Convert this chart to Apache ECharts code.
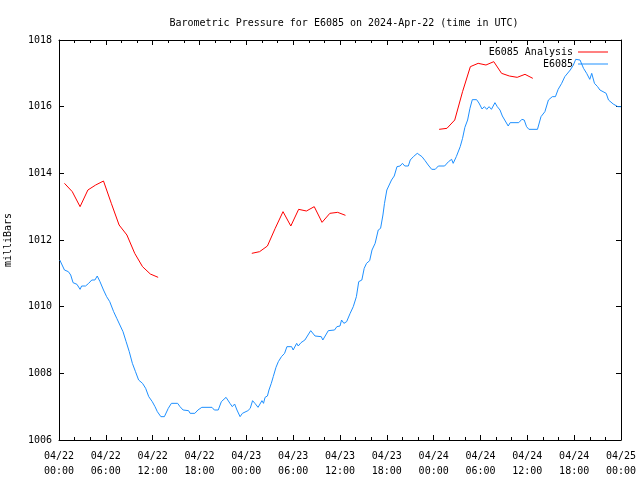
<!DOCTYPE html>
<html>
<head>
<meta charset="utf-8">
<script src="https://cdn.jsdelivr.net/npm/echarts@6/dist/echarts.min.js"></script>
<style>html,body{margin:0;padding:0;background:#fff}#c{width:640px;height:480px}</style>
</head>
<body>
<div id="c"></div>
<script>
// Hours since 2024-04-22 00:00 UTC
var analysisHours = [0.7,1.7,2.7,3.7,4.7,5.7,6.7,7.7,8.7,9.7,10.7,11.7,12.7,
  24.7,25.7,26.7,27.7,28.7,29.7,30.7,31.7,32.7,33.7,34.7,35.7,36.7,
  48.7,49.7,50.7,51.7,52.7,53.7,54.7,55.7,56.7,57.7,58.7,59.7,60.7];
var analysisValues = [1013.70,1013.45,1013.00,1013.50,1013.65,1013.77,1013.10,1012.45,1012.15,1011.60,1011.20,1010.98,1010.88,
  1011.60,1011.65,1011.82,1012.35,1012.85,1012.42,1012.92,1012.87,1013.00,1012.53,1012.80,1012.83,1012.74,
  1015.32,1015.35,1015.60,1016.45,1017.20,1017.30,1017.25,1017.35,1017.00,1016.92,1016.88,1016.97,1016.85];
var analysisGapsAfter = [12.7, 36.7];

var stationHours = [0.1,0.4,0.7,1.2,1.5,1.8,2.3,2.7,2.9,3.4,3.8,4.2,4.6,4.9,5.25,5.7,6.1,6.5,7.0,7.4,7.8,8.2,8.6,9.0,9.4,9.8,
  10.2,10.7,11.1,11.5,11.95,12.3,12.6,13.05,13.5,14.0,14.4,15.2,15.5,15.9,16.6,16.8,17.4,17.8,18.3,19.6,19.9,20.4,20.8,21.4,21.9,
  22.2,22.5,22.8,23.2,23.5,24.2,24.5,24.8,25.1,25.5,26.0,26.2,26.4,26.7,26.9,27.2,27.45,27.8,28.1,28.5,28.9,29.2,29.8,30.0,30.45,
  30.65,31.0,31.5,31.9,32.25,32.8,33.6,33.8,34.1,34.5,35.3,35.6,36.0,36.2,36.5,36.85,37.3,37.7,38.1,38.4,38.8,39.1,39.4,39.8,
  40.1,40.5,40.9,41.2,41.5,41.7,42.0,42.3,42.6,42.95,43.3,43.7,44.0,44.3,44.75,45.0,45.4,45.9,46.5,46.9,47.3,47.75,48.2,48.6,
  49.4,49.9,50.3,50.5,50.9,51.4,51.7,52.0,52.35,52.65,52.95,53.5,53.8,54.2,54.5,54.8,55.1,55.4,55.85,56.15,56.5,56.8,57.1,57.55,
  57.8,58.9,59.3,59.6,59.9,60.2,61.3,61.75,62.25,62.7,63.2,63.6,63.95,64.4,64.8,65.5,65.9,66.2,66.75,67.2,67.6,68.0,68.25,68.6,
  69.0,69.3,69.7,70.1,70.4,71.0,71.6,72.0];
var stationValues = [1011.40,1011.25,1011.10,1011.05,1010.95,1010.72,1010.67,1010.52,1010.62,1010.62,1010.70,1010.80,1010.80,1010.92,1010.75,1010.50,1010.30,1010.15,1009.85,1009.65,1009.45,1009.25,1008.95,1008.65,1008.30,1008.05,
  1007.80,1007.70,1007.55,1007.30,1007.15,1007.00,1006.85,1006.70,1006.70,1006.95,1007.10,1007.10,1007.00,1006.90,1006.88,1006.80,1006.80,1006.90,1006.98,1006.98,1006.90,1006.90,1007.15,1007.28,1007.10,
  1007.00,1007.08,1006.90,1006.70,1006.80,1006.88,1006.95,1007.18,1007.10,1006.98,1007.18,1007.10,1007.28,1007.32,1007.50,1007.70,1007.90,1008.18,1008.35,1008.50,1008.60,1008.80,1008.80,1008.70,1008.90,
  1008.82,1008.92,1009.00,1009.15,1009.28,1009.12,1009.10,1009.00,1009.12,1009.28,1009.30,1009.40,1009.42,1009.60,1009.50,1009.55,1009.80,1010.00,1010.30,1010.75,1010.80,1011.15,1011.30,1011.38,
  1011.70,1011.90,1012.30,1012.35,1012.75,1013.10,1013.50,1013.65,1013.80,1013.92,1014.20,1014.22,1014.30,1014.22,1014.22,1014.40,1014.50,1014.60,1014.50,1014.38,1014.25,1014.12,1014.12,1014.22,
  1014.22,1014.35,1014.42,1014.30,1014.50,1014.80,1015.05,1015.38,1015.60,1015.95,1016.21,1016.21,1016.11,1015.93,1016.00,1015.92,1016.00,1015.92,1016.12,1016.00,1015.90,1015.72,1015.60,1015.42,
  1015.52,1015.52,1015.62,1015.60,1015.40,1015.32,1015.32,1015.70,1015.85,1016.20,1016.30,1016.30,1016.52,1016.70,1016.90,1017.10,1017.25,1017.42,1017.40,1017.15,1017.00,1016.82,1017.00,1016.70,
  1016.60,1016.50,1016.45,1016.40,1016.20,1016.08,1016.00,1016.00];

var yTicks = [1006, 1008, 1010, 1012, 1014, 1016, 1018];
var xDays = ['04/22', '04/23', '04/24', '04/25'];

var FONT = 'DejaVu Sans Mono';

var analysisData = [];
for (var i = 0; i < analysisHours.length; i++) {
  analysisData.push([analysisHours[i], analysisValues[i]]);
  if (analysisGapsAfter.indexOf(analysisHours[i]) >= 0) analysisData.push([analysisHours[i] + 0.5, '-']);
}
var stationData = stationHours.map(function (h, i) { return [h, stationValues[i]]; });

function xLabel(v) {
  var d = Math.floor(v / 24), hh = v - d * 24;
  return xDays[d] + '\n' + (hh < 10 ? '0' : '') + hh + ':00';
}

var axisCommon = {
  axisLine: { show: true, onZero: false, lineStyle: { color: '#000', width: 1 } },
  splitLine: { show: false }
};

var chart = echarts.init(document.getElementById('c'), null, { renderer: 'canvas' });
chart.setOption({
  animation: false,
  backgroundColor: '#fff',
  title: {
    text: 'Barometric Pressure for E6085 on 2024-Apr-22 (time in UTC)',
    left: 339, top: 13, textAlign: 'center',
    textStyle: { fontFamily: FONT, fontSize: 10, fontWeight: 'normal', color: '#000' }
  },
  legend: {
    orient: 'vertical', right: 27, top: 41, align: 'right', itemGap: 0,
    itemWidth: 30, itemHeight: 1, icon: 'rect',
    textStyle: { fontFamily: FONT, fontSize: 10, color: '#000', lineHeight: 12 },
    data: [
      { name: 'E6085 Analysis', itemStyle: { color: '#ff0000' } },
      { name: 'E6085', itemStyle: { color: '#1e90ff' } }
    ]
  },
  grid: { left: 59, right: 19, top: 40, bottom: 40, containLabel: false, outerBoundsMode: 'none' },
  xAxis: [
    Object.assign({
      type: 'value', position: 'bottom', min: 0, max: 72, interval: 6,
      axisTick: { show: true, inside: true, length: 5, lineStyle: { color: '#000' } },
      minorTick: { show: true, splitNumber: 3, length: 3, lineStyle: { color: '#000' } },
      axisLabel: { formatter: xLabel, fontFamily: FONT, fontSize: 10, color: '#000', lineHeight: 15, margin: 9 }
    }, axisCommon),
    Object.assign({
      type: 'value', position: 'top', min: 0, max: 72, interval: 6,
      axisTick: { show: true, inside: true, length: 5, lineStyle: { color: '#000' } },
      minorTick: { show: true, splitNumber: 3, length: 3, lineStyle: { color: '#000' } },
      axisLabel: { show: false }
    }, axisCommon)
  ],
  yAxis: [
    Object.assign({
      type: 'value', position: 'left', min: yTicks[0], max: yTicks[yTicks.length - 1], interval: 2,
      name: 'milliBars', nameLocation: 'middle', nameGap: 46,
      nameTextStyle: { fontFamily: FONT, fontSize: 10, color: '#000' },
      axisTick: { show: true, inside: true, length: 5, lineStyle: { color: '#000' } },
      axisLabel: { fontFamily: FONT, fontSize: 10, color: '#000', margin: 7,
        formatter: function (v) { return String(v); } }
    }, axisCommon),
    Object.assign({
      type: 'value', position: 'right', min: yTicks[0], max: yTicks[yTicks.length - 1], interval: 2,
      axisTick: { show: true, inside: true, length: 5, lineStyle: { color: '#000' } },
      axisLabel: { show: false }
    }, axisCommon)
  ],
  series: [
    {
      name: 'E6085 Analysis', type: 'line', data: analysisData, xAxisIndex: 0, yAxisIndex: 0,
      showSymbol: false, connectNulls: false, color: '#ff0000',
      lineStyle: { color: '#ff0000', width: 1 }
    },
    {
      name: 'E6085', type: 'line', data: stationData, xAxisIndex: 0, yAxisIndex: 0,
      showSymbol: false, color: '#1e90ff',
      lineStyle: { color: '#1e90ff', width: 1 }
    }
  ]
});
</script>
</body>
</html>
